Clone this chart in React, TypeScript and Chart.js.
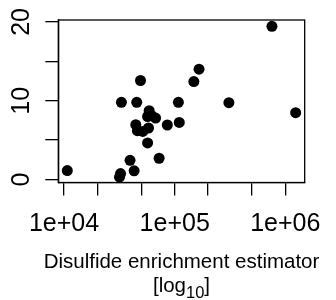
import React, { useEffect, useRef } from "react";
import { Chart, registerables } from "chart.js";

Chart.register(...registerables);

const xValues = [1.07e4, 3.17e4, 3.24e4, 3.3e4, 3.95e4, 4.3e4, 4.54e4, 4.91e4, 4.45e4, 4.6e4, 5.15e4, 5.69e4, 5.8e4, 5.88e4, 5.69e4, 6.2e4, 6.72e4, 7.23e4, 8.58e4, 1.08e5, 1.1e5, 1.49e5, 1.66e5, 3.09e5, 7.57e5, 1.24e6];
const yValues = [1.14, 0.29, 0.76, 9.8, 2.44, 1.1, 9.8, 12.57, 6.96, 6.2, 6.1, 4.64, 6.54, 8.73, 8.0, 8.1, 7.8, 2.7, 6.92, 9.8, 7.25, 12.44, 14.0, 9.75, 19.45, 8.48];

const xTicks = [1e4, 2e4, 5e4, 1e5, 2e5, 5e5, 1e6];
const xLabelTicks = [1e4, 1e5, 1e6];
const xTickLabels = ["1e+04", "1e+05", "1e+06"];
const yTicks = [0, 5, 10, 15, 20];
const yLabelTicks = [0, 10, 20];
const yTickLabels = ["0", "10", "20"];
const titleLine1 = "Disulfide enrichment estimator";
const titleLog = "[log";
const titleSub = "10";
const titleClose = "]";

const FONT = "'Liberation Sans', Arial, Helvetica, sans-serif";

export default function App() {
  const ref = useRef<HTMLCanvasElement | null>(null);

  useEffect(() => {
    document.body.style.margin = "0";
    const canvas = ref.current;
    if (!canvas) return;

    const overlay = {
      id: "overlay",
      afterDraw(chart: any) {
        const ctx = chart.ctx;
        const area = chart.chartArea;
        const ys = chart.scales.y;
        ctx.save();
        ctx.strokeStyle = "#000";
        ctx.lineWidth = 1.3;
        ctx.strokeRect(area.left, area.top, area.right - area.left, area.bottom - area.top);

        // y tick labels, rotated
        ctx.fillStyle = "#000";
        ctx.font = `25px ${FONT}`;
        ctx.textAlign = "center";
        ctx.textBaseline = "alphabetic";
        yLabelTicks.forEach((v, i) => {
          const py = ys.getPixelForValue(v);
          ctx.save();
          ctx.translate(28.5, py);
          ctx.rotate(-Math.PI / 2);
          ctx.fillText(yTickLabels[i], 0, 0);
          ctx.restore();
        });

        // x title
        const cx = (area.left + area.right) / 2;
        ctx.font = `20.5px ${FONT}`;
        ctx.textAlign = "center";
        ctx.fillText(titleLine1, cx, 268);

        ctx.font = `20.5px ${FONT}`;
        const w1 = ctx.measureText(titleLog).width;
        const w3 = ctx.measureText(titleClose).width;
        ctx.font = `16.5px ${FONT}`;
        const w2 = ctx.measureText(titleSub).width;
        const total = w1 + w2 + w3;
        const x0 = cx - total / 2;
        ctx.textAlign = "left";
        ctx.font = `20.5px ${FONT}`;
        ctx.fillText(titleLog, x0, 292);
        ctx.font = `16.5px ${FONT}`;
        ctx.fillText(titleSub, x0 + w1, 298);
        ctx.font = `20.5px ${FONT}`;
        ctx.fillText(titleClose, x0 + w1 + w2, 292);
        ctx.restore();
      },
    };

    const chart = new Chart(canvas, {
      type: "scatter",
      data: {
        datasets: [
          {
            data: xValues.map((x, i) => ({ x, y: yValues[i] })),
            backgroundColor: "#000",
            borderWidth: 0,
            pointRadius: 5.5,
            pointHoverRadius: 5.5,
          },
        ],
      },
      options: {
        responsive: false,
        animation: false,
        events: [],
        layout: { padding: { left: 0, right: 20, top: 20, bottom: 0 } },
        plugins: { legend: { display: false }, tooltip: { enabled: false } },
        scales: {
          x: {
            type: "logarithmic",
            min: Math.pow(10, 3.948),
            max: Math.pow(10, 6.175),
            afterBuildTicks: (s: any) => {
              s.ticks = xTicks.map((v) => ({ value: v }));
            },
            afterFit: (s: any) => {
              s.height = 117.5;
            },
            grid: {
              display: true,
              drawOnChartArea: false,
              drawTicks: true,
              tickLength: 13,
              color: "#000",
              lineWidth: 1.3,
            },
            border: { display: true, color: "#000", width: 1.3 },
            ticks: {
              autoSkip: false,
              maxRotation: 0,
              minRotation: 0,
              padding: 14,
              color: "#000",
              font: { family: FONT, size: 25 },
              callback: (v: any) => {
                const idx = xLabelTicks.findIndex((t) => Math.abs(t - Number(v)) / t < 1e-6);
                return idx >= 0 ? xTickLabels[idx] : "";
              },
            },
          },
          y: {
            type: "linear",
            min: -0.38,
            max: 20.25,
            afterBuildTicks: (s: any) => {
              s.ticks = yTicks.map((v) => ({ value: v }));
            },
            afterFit: (s: any) => {
              s.width = 58.3;
            },
            grid: {
              display: true,
              drawOnChartArea: false,
              drawTicks: true,
              tickLength: 13,
              color: "#000",
              lineWidth: 1.3,
            },
            border: { display: true, color: "#000", width: 1.3 },
            ticks: { display: false },
          },
        },
      },
      plugins: [overlay],
    } as any);

    return () => chart.destroy();
  }, []);

  return (
    <div style={{ width: 336, height: 300 }}>
      <canvas ref={ref} width={336} height={300} style={{ display: "block" }} />
    </div>
  );
}
